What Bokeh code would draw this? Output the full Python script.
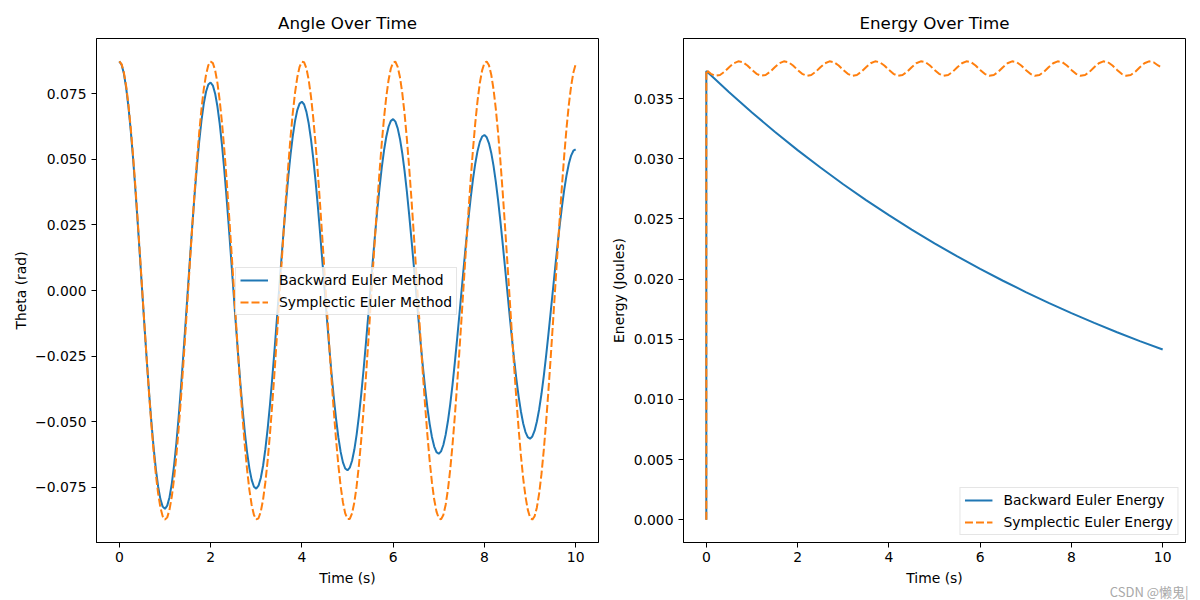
from bokeh.plotting import figure
from bokeh.layouts import row
from bokeh.models import Range1d, FixedTicker, Title
from bokeh.embed import file_html
from bokeh.resources import INLINE

# ---------------- data ----------------
# angle samples at t = 0.0, 0.1, ... 10.0 and at the midpoints t = 0.05, 0.15, ... 9.95
theta_backward_tenths = [
    0.08730, 0.08263, 0.06995, 0.05057, 0.02646, 0.00000, -0.02620, -0.04960, -0.06794, -0.07948,
    -0.08317, -0.07872, -0.06664, -0.04818, -0.02521, 0.00000, 0.02496, 0.04726, 0.06473, 0.07573,
    0.07923, 0.07499, 0.06348, 0.04590, 0.02401, 0.00000, -0.02378, -0.04502, -0.06166, -0.07214,
    -0.07548, -0.07144, -0.06047, -0.04373, -0.02288, 0.00000, 0.02265, 0.04289, 0.05874, 0.06873,
    0.07191, 0.06806, 0.05761, 0.04166, 0.02179, 0.00000, -0.02158, -0.04086, -0.05596, -0.06547,
    -0.06851, -0.06485, -0.05489, -0.03969, -0.02076, 0.00000, 0.02056, 0.03893, 0.05332, 0.06238,
    0.06527, 0.06177, 0.05229, 0.03781, 0.01978, 0.00000, -0.01959, -0.03708, -0.05080, -0.05943,
    -0.06218, -0.05885, -0.04982, -0.03602, -0.01884, 0.00000, 0.01866, 0.03533, 0.04839, 0.05662,
    0.05924, 0.05607, 0.04746, 0.03432, 0.01796, 0.00000, -0.01778, -0.03366, -0.04610, -0.05394,
    -0.05644, -0.05342, -0.04522, -0.03270, -0.01711, 0.00000, 0.01694, 0.03207, 0.04393, 0.05140,
    0.05377,
]
theta_backward_mid = [
    0.08602, 0.07722, 0.06099, 0.03897, 0.01336, -0.01330, -0.03840, -0.05953, -0.07465, -0.08234,
    -0.08195, -0.07357, -0.05810, -0.03712, -0.01273, 0.01267, 0.03659, 0.05672, 0.07112, 0.07845,
    0.07807, 0.07009, 0.05535, 0.03537, 0.01213, -0.01207, -0.03485, -0.05402, -0.06775, -0.07474,
    -0.07437, -0.06676, -0.05273, -0.03369, -0.01155, 0.01150, 0.03320, 0.05146, 0.06454, 0.07119,
    0.07086, 0.06361, 0.05023, 0.03210, 0.01101, -0.01095, -0.03163, -0.04903, -0.06148, -0.06782,
    -0.06750, -0.06060, -0.04786, -0.03058, -0.01049, 0.01044, 0.03014, 0.04672, 0.05858, 0.06462,
    0.06431, 0.05773, 0.04559, 0.02913, 0.00999, -0.00994, -0.02871, -0.04451, -0.05581, -0.06157,
    -0.06127, -0.05500, -0.04344, -0.02775, -0.00952, 0.00947, 0.02735, 0.04240, 0.05318, 0.05866,
    0.05837, 0.05240, 0.04139, 0.02645, 0.00907, -0.00902, -0.02606, -0.04040, -0.05065, -0.05587,
    -0.05561, -0.04992, -0.03943, -0.02520, -0.00864, 0.00860, 0.02483, 0.03849, 0.04827, 0.05325,
]

theta_symplectic_tenths = [
    0.08730, 0.08307, 0.07079, 0.05165, 0.02750, 0.00068, -0.02620, -0.05054, -0.06998, -0.08264,
    -0.08729, -0.08348, -0.07158, -0.05274, -0.02879, -0.00205, 0.02489, 0.04942, 0.06915, 0.08219,
    0.08726, 0.08387, 0.07235, 0.05382, 0.03007, 0.00341, -0.02358, -0.04829, -0.06831, -0.08172,
    -0.08720, -0.08424, -0.07311, -0.05489, -0.03135, -0.00478, 0.02226, 0.04714, 0.06745, 0.08123,
    0.08713, 0.08459, 0.07384, 0.05594, 0.03262, 0.00614, -0.02094, -0.04599, -0.06658, -0.08072,
    -0.08703, -0.08491, -0.07456, -0.05699, -0.03389, -0.00750, 0.01961, 0.04482, 0.06569, 0.08019,
    0.08692, 0.08522, 0.07526, 0.05801, 0.03514, 0.00886, -0.01828, -0.04364, -0.06478, -0.07964,
    -0.08678, -0.08551, -0.07595, -0.05903, -0.03638, -0.01022, 0.01694, 0.04246, 0.06386, 0.07907,
    0.08662, 0.08577, 0.07661, 0.06003, 0.03762, 0.01157, -0.01560, -0.04126, -0.06292, -0.07848,
    -0.08644, -0.08602, -0.07726, -0.06101, -0.03885, -0.01292, 0.01425, 0.04005, 0.06197, 0.07787,
    0.08624,
]
theta_symplectic_mid = [
    0.08624, 0.07788, 0.06197, 0.04006, 0.01426, -0.01291, -0.03884, -0.06100, -0.07725, -0.08601,
    -0.08644, -0.07849, -0.06293, -0.04127, -0.01561, 0.01156, 0.03761, 0.06002, 0.07661, 0.08577,
    0.08662, 0.07907, 0.06386, 0.04246, 0.01695, -0.01021, -0.03638, -0.05902, -0.07594, -0.08550,
    -0.08678, -0.07964, -0.06479, -0.04365, -0.01829, 0.00885, 0.03513, 0.05801, 0.07526, 0.08522,
    0.08692, 0.08019, 0.06570, 0.04483, 0.01962, -0.00749, -0.03388, -0.05698, -0.07456, -0.08491,
    -0.08703, -0.08072, -0.06659, -0.04600, -0.02095, 0.00613, 0.03261, 0.05594, 0.07384, 0.08458,
    0.08713, 0.08123, 0.06746, 0.04715, 0.02227, -0.00477, -0.03134, -0.05488, -0.07310, -0.08423,
    -0.08720, -0.08172, -0.06832, -0.04829, -0.02359, 0.00340, 0.03007, 0.05381, 0.07235, 0.08387,
    0.08726, 0.08219, 0.06916, 0.04942, 0.02490, -0.00204, -0.02878, -0.05273, -0.07157, -0.08348,
    -0.08729, -0.08264, -0.06998, -0.05054, -0.02620, 0.00067, 0.02749, 0.05164, 0.07078, 0.08307,
]

time_energy_backward = [0.0, 0.0, 0.5, 1.0, 1.5, 2.0, 2.5, 3.0, 3.5, 4.0, 4.5, 5.0,
                        5.5, 6.0, 6.5, 7.0, 7.5, 8.0, 8.5, 9.0, 9.5, 10.0]
energy_backward = [0.0, 0.03730, 0.03553, 0.03385, 0.03225, 0.03072, 0.02927, 0.02788,
                   0.02656, 0.02531, 0.02411, 0.02297, 0.02188, 0.02084, 0.01986, 0.01892,
                   0.01802, 0.01717, 0.01636, 0.01558, 0.01484, 0.01414]

energy_symplectic = [0.0] + [
    0.03739, 0.03706, 0.03690, 0.03697, 0.03724, 0.03761, 0.03794, 0.03810, 0.03803, 0.03776,
    0.03739, 0.03706, 0.03690, 0.03697, 0.03724, 0.03761, 0.03794, 0.03810, 0.03803, 0.03776,
    0.03739, 0.03706, 0.03690, 0.03697, 0.03724, 0.03761, 0.03794, 0.03810, 0.03803, 0.03776,
    0.03739, 0.03706, 0.03690, 0.03697, 0.03724, 0.03761, 0.03794, 0.03810, 0.03803, 0.03776,
    0.03739, 0.03706, 0.03690, 0.03697, 0.03724, 0.03761, 0.03794, 0.03810, 0.03803, 0.03776,
    0.03739, 0.03706, 0.03690, 0.03697, 0.03724, 0.03761, 0.03794, 0.03810, 0.03803, 0.03776,
    0.03739, 0.03706, 0.03690, 0.03697, 0.03724, 0.03761, 0.03794, 0.03810, 0.03803, 0.03776,
    0.03739, 0.03706, 0.03690, 0.03697, 0.03724, 0.03761, 0.03794, 0.03810, 0.03803, 0.03776,
    0.03739, 0.03706, 0.03690, 0.03697, 0.03724, 0.03761, 0.03794, 0.03810, 0.03803, 0.03776,
    0.03739, 0.03706, 0.03690, 0.03697, 0.03724, 0.03761, 0.03794, 0.03810, 0.03803, 0.03776,
    0.03755,
]

x_ticks = [0, 2, 4, 6, 8, 10]
theta_ticks = [-0.075, -0.05, -0.025, 0.0, 0.025, 0.05, 0.075]
theta_tick_labels = ["\u22120.075", "\u22120.050", "\u22120.025", "0.000", "0.025", "0.050", "0.075"]
energy_ticks = [0.0, 0.005, 0.01, 0.015, 0.02, 0.025, 0.03, 0.035]
energy_tick_labels = ["0.000", "0.005", "0.010", "0.015", "0.020", "0.025", "0.030", "0.035"]
watermark = "CSDN @懒鬼|"

# build the time axes / merged series from the lists above
time_angle = []
theta_backward = []
theta_symplectic = []
for i in range(100):
    time_angle += [round(i * 0.1, 2), round(i * 0.1 + 0.05, 2)]
    theta_backward += [theta_backward_tenths[i], theta_backward_mid[i]]
    theta_symplectic += [theta_symplectic_tenths[i], theta_symplectic_mid[i]]
time_angle.append(10.0)
theta_backward.append(theta_backward_tenths[100])
theta_symplectic.append(theta_symplectic_tenths[100])

time_energy_symplectic = [0.0] + [round(i * 0.1, 1) for i in range(101)]

# ---------------- styling ----------------
BLUE = "#1f77b4"
ORANGE = "#ff7f0e"
FONT = "DejaVu Sans"
TICK_FS = "13.9px"


def style(p, yticks, ylabels, xlabel, ylabel, ylabel_standoff):
    p.title.text_font = FONT
    p.title.text_font_size = "16.7px"
    p.title.text_font_style = "normal"
    p.title.align = "center"
    p.title.text_color = "black"
    p.title.standoff = 12
    p.outline_line_color = "black"
    p.outline_line_width = 1
    p.xgrid.visible = False
    p.ygrid.visible = False
    p.background_fill_color = "white"
    p.border_fill_color = "white"
    p.xaxis.ticker = FixedTicker(ticks=x_ticks)
    p.yaxis.ticker = FixedTicker(ticks=yticks)
    p.yaxis.major_label_overrides = {t: l for t, l in zip(yticks, ylabels)}
    p.xaxis.major_label_overrides = {t: str(t) for t in x_ticks}
    for ax in (p.xaxis, p.yaxis):
        ax.axis_line_color = "black"
        ax.axis_line_width = 1
        ax.major_tick_line_color = "black"
        ax.major_tick_out = 5
        ax.major_tick_in = 0
        ax.minor_tick_line_color = None
        ax.major_label_text_font = FONT
        ax.major_label_text_font_size = TICK_FS
        ax.major_label_text_color = "black"
        ax.major_label_standoff = 5
        ax.axis_label_text_font = FONT
        ax.axis_label_text_font_size = TICK_FS
        ax.axis_label_text_font_style = "normal"
        ax.axis_label_text_color = "black"
    p.xaxis.major_label_standoff = 4
    p.xaxis.axis_label = xlabel
    p.yaxis.axis_label = ylabel
    p.xaxis.axis_label_standoff = 5
    p.yaxis.axis_label_standoff = ylabel_standoff


def style_legend(lg):
    lg.label_text_font = FONT
    lg.label_text_font_size = TICK_FS
    lg.label_text_color = "black"
    lg.glyph_width = 28
    lg.glyph_height = 14
    lg.label_height = 14
    lg.label_standoff = 11
    lg.spacing = 6
    lg.padding = 4
    lg.border_line_color = "#cccccc"
    lg.border_line_width = 1
    lg.background_fill_color = "white"
    lg.background_fill_alpha = 0.8


# ---------------- left: angle ----------------
p1 = figure(frame_width=502, frame_height=504, min_border_left=96, min_border_right=5,
            min_border_top=38, min_border_bottom=58,
            x_range=Range1d(-0.5, 10.5), y_range=Range1d(-0.0960, 0.0960),
            title="Angle Over Time", output_backend="svg", toolbar_location=None)
p1.line(time_angle, theta_backward, line_color=BLUE, line_width=2, legend_label="Backward Euler Method")
p1.line(time_angle, theta_symplectic, line_color=ORANGE, line_width=2, line_dash="8 3",
        legend_label="Symplectic Euler Method")
style(p1, theta_ticks, theta_tick_labels, "Time (s)", "Theta (rad)", 3)
p1.legend.location = (139, 227)
style_legend(p1.legend[0])

# ---------------- right: energy ----------------
p2 = figure(frame_width=502, frame_height=504, min_border_left=80, min_border_right=15,
            min_border_top=38, min_border_bottom=58,
            x_range=Range1d(-0.5, 10.5), y_range=Range1d(-0.0019, 0.0400),
            title="Energy Over Time", output_backend="svg", toolbar_location=None)
p2.line(time_energy_backward, energy_backward, line_color=BLUE, line_width=2,
        legend_label="Backward Euler Energy")
p2.line(time_energy_symplectic, energy_symplectic, line_color=ORANGE, line_width=2, line_dash="8 3",
        legend_label="Symplectic Euler Energy")
style(p2, energy_ticks, energy_tick_labels, "Time (s)", "Energy (Joules)", 4)
p2.legend.location = "bottom_right"
p2.legend.margin = 7
style_legend(p2.legend[0])

p2.add_layout(Title(text=watermark, align="right", text_font="Noto Sans CJK SC",
                    text_font_size="13px", text_font_style="normal", text_color="#a8a8a8",
                    standoff=-25, offset=-3), "below")

layout = row(p1, p2)
open("out.html", "w").write(file_html(layout, INLINE))
